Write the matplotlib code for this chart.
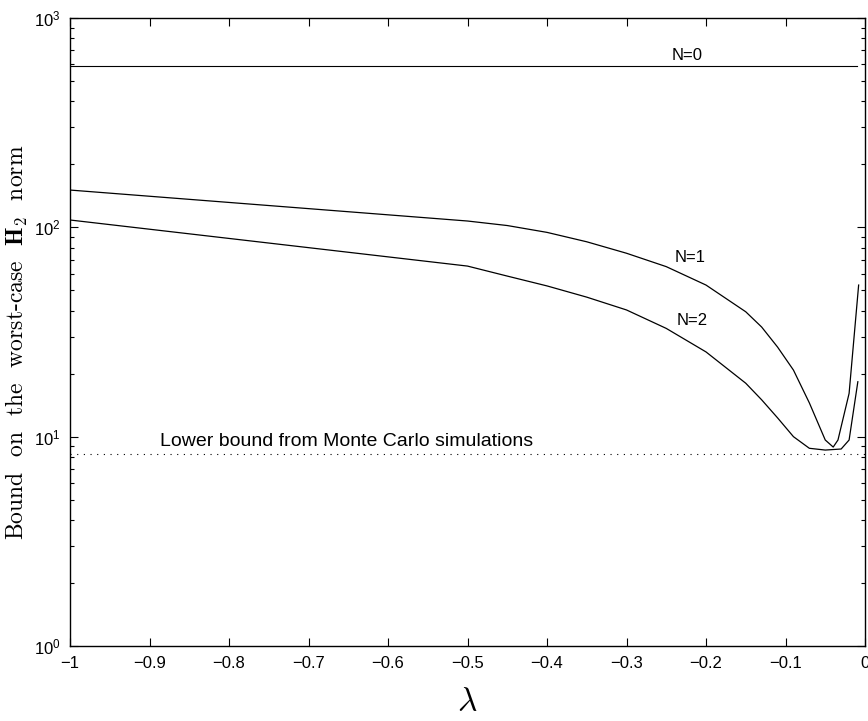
import matplotlib
matplotlib.use("Agg")
import matplotlib.pyplot as plt
import numpy as np

plt.rcParams['font.family'] = ['Liberation Sans', 'DejaVu Sans']
plt.rcParams['mathtext.fontset'] = 'cm'

# Data
lam_n0 = [-1.0, -0.01]
bound_n0 = [592, 592]

lam_n1 = [-1.0, -0.5, -0.45, -0.4, -0.35, -0.3, -0.25, -0.2, -0.15, -0.13, -0.11,
          -0.09, -0.07, -0.05, -0.04, -0.034, -0.02, -0.008]
bound_n1 = [150.7, 107.2, 102, 94.6, 85.3, 75.2, 64.9, 53, 39.5, 33.4, 26.8,
            20.8, 14.5, 9.64, 8.92, 9.64, 16.1, 53]

lam_n2 = [-1.0, -0.5, -0.45, -0.4, -0.35, -0.3, -0.25, -0.2, -0.15, -0.13, -0.11,
          -0.09, -0.07, -0.05, -0.03, -0.02, -0.009]
bound_n2 = [108.4, 65.3, 58.5, 52.5, 46.4, 40.3, 32.9, 25.4, 18.0, 15.0, 12.3,
            10.0, 8.8, 8.63, 8.73, 9.64, 18.3]

lam_mc = [-1.0, 0.0]
bound_mc = [8.26, 8.26]

xticks = [-1, -0.9, -0.8, -0.7, -0.6, -0.5, -0.4, -0.3, -0.2, -0.1, 0]
xticklabels = ['\u22121', '\u22120.9', '\u22120.8', '\u22120.7', '\u22120.6', '\u22120.5',
               '\u22120.4', '\u22120.3', '\u22120.2', '\u22120.1', '0']

fig = plt.figure(figsize=(8.68, 7.21), dpi=100)
ax = fig.add_axes([70/868, 1-646/721, (865-70)/868, (646-18)/721])

ax.plot(lam_n0, bound_n0, color='black', lw=0.8)
ax.plot(lam_n1, bound_n1, color='black', lw=0.9)
ax.plot(lam_n2, bound_n2, color='black', lw=0.9)
ax.plot(lam_mc, bound_mc, color='black', lw=0.8, linestyle=(0, (1, 5)))

ax.set_yscale('log')
ax.set_xlim(-1, 0)
ax.set_ylim(1, 1000)
ax.set_xticks(xticks)
ax.set_xticklabels(xticklabels)

ax.text(-0.224, 665, 'N=0', fontsize=12, ha='center', va='center')
ax.text(-0.220, 72, 'N=1', fontsize=12, ha='center', va='center')
ax.text(-0.217, 36, 'N=2', fontsize=12, ha='center', va='center')
ax.text(-0.887, 9.5, 'Lower bound from Monte Carlo simulations', fontsize=14,
        ha='left', va='center')

ax.tick_params(which='both', direction='in', top=True, right=True, labelsize=12,
               width=0.8)
ax.tick_params(which='major', length=6, pad=7)
ax.tick_params(which='minor', length=3)
for s in ax.spines.values():
    s.set_linewidth(1.0)

ax.set_xlabel(r'$\lambda$', fontsize=24, labelpad=12)
ax.set_ylabel(r'Bound  on  the  worst-case  $\mathbf{H}_2$  norm', fontsize=17,
              fontfamily='cmr10')
ax.yaxis.set_label_coords(-0.05, 0.484)

fig.savefig('out.png', dpi=100)
